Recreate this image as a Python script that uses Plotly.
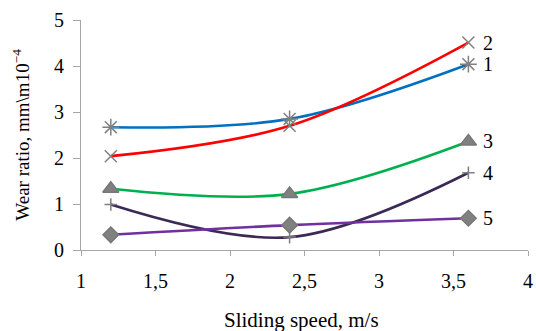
import plotly.graph_objects as go

speed = [1.2, 2.4, 3.6]
s1 = [2.67, 2.85, 4.04]
s2 = [2.04, 2.70, 4.51]
s3 = [1.33, 1.22, 2.36]
s4 = [0.99, 0.28, 1.68]
s5 = [0.33, 0.54, 0.69]
labels = ["1", "2", "3", "4", "5"]
x_ticks = [1, 1.5, 2, 2.5, 3, 3.5, 4]
x_ticktext = ["1", "1,5", "2", "2,5", "3", "3,5", "4"]
y_ticks = [0, 1, 2, 3, 4, 5]

SERIF = "Liberation Serif"

series = [
    (s1, "#0070C0", "asterisk-open", 14),
    (s2, "#FF0000", "x-thin-open", 12),
    (s3, "#00B050", "triangle-up", 14),
    (s4, "#3B2A55", "cross-thin-open", 9),
    (s5, "#7030A0", "diamond", 12),
]

fig = go.Figure()
for vals, col, sym, sz in series:
    fig.add_trace(go.Scatter(
        x=speed, y=vals, mode="lines",
        line=dict(color=col, width=2.6, shape="spline", smoothing=1.0),
        showlegend=False, hoverinfo="skip"))
for vals, col, sym, sz in series:
    fig.add_trace(go.Scatter(
        x=speed, y=vals, mode="markers",
        marker=dict(symbol=sym, size=sz, color="#808080",
                    line=dict(color="#777777", width=1.5)),
        showlegend=False))

for lab, vals in zip(labels, [s1, s2, s3, s4, s5]):
    fig.add_annotation(x=speed[-1], y=vals[-1], text=lab, showarrow=False,
                       xanchor="left", xshift=13, yanchor="middle",
                       font=dict(family=SERIF, size=20, color="#000000"))

fig.add_annotation(x=0.494, y=-0.305, xref="paper", yref="paper",
                   text="Sliding speed, m/s", showarrow=False,
                   xanchor="center", yanchor="middle",
                   font=dict(family=SERIF, size=21, color="#000"))
fig.add_annotation(x=-0.135, y=0.5, xref="paper", yref="paper",
                   text="Wear ratio, mm\\m10<sup>−4</sup>", showarrow=False,
                   textangle=-90, xanchor="center", yanchor="middle",
                   font=dict(family=SERIF, size=19, color="#000"))

fig.update_layout(
    width=536, height=331,
    margin=dict(l=81, r=8, t=20, b=81),
    paper_bgcolor="white", plot_bgcolor="white",
    font=dict(family=SERIF, size=20, color="#000"),
    xaxis=dict(range=[1, 4], tickvals=x_ticks, ticktext=x_ticktext,
               showgrid=False, zeroline=False, showline=True, automargin=False,
               linecolor="#A6A6A6", linewidth=1, ticks="outside",
               tickcolor="#A6A6A6", ticklen=5, ticklabelstandoff=8),
    yaxis=dict(range=[0, 5], tickvals=y_ticks,
               showgrid=False, zeroline=False, showline=True, automargin=False,
               linecolor="#A6A6A6", linewidth=1, ticks="outside",
               tickcolor="#A6A6A6", ticklen=7, ticklabelstandoff=5),
)

fig.write_html("out.html", config={"displayModeBar": False},
               post_script="document.body.style.margin='0';document.body.style.overflow='hidden';")
